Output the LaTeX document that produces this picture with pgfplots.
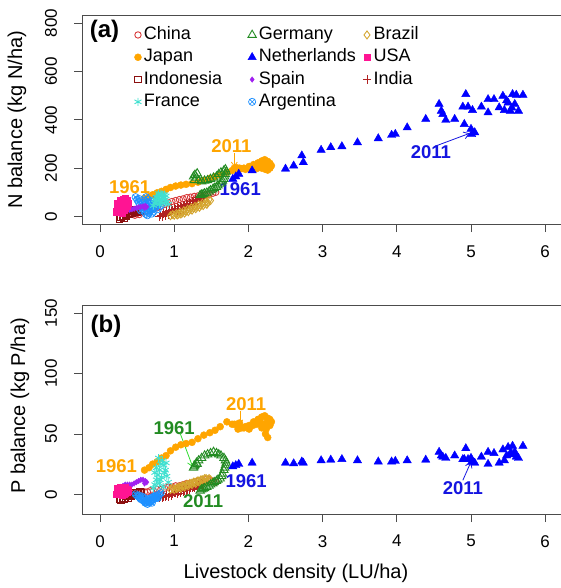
\documentclass[border=0pt]{standalone}
\usepackage{pgfplots}
\usepackage{pgfplotstable}
\pgfplotsset{compat=1.18}
\usepackage{fontspec}
\setmainfont{Liberation Sans}
\usetikzlibrary{arrows.meta}
\definecolor{cChina}{HTML}{D83A3A}
\definecolor{cGermany}{HTML}{228B22}
\definecolor{cBrazil}{HTML}{D4A52E}
\definecolor{cJapan}{HTML}{FFA500}
\definecolor{cNL}{HTML}{0000FF}
\definecolor{cUSA}{HTML}{FF1493}
\definecolor{cIndo}{HTML}{8B1010}
\definecolor{cSpain}{HTML}{A020F0}
\definecolor{cIndia}{HTML}{B22222}
\definecolor{cFrance}{HTML}{40E0D0}
\definecolor{cArg}{HTML}{1E90FF}
\definecolor{cBlueLab}{HTML}{1414E0}
\definecolor{cGreenArr}{HTML}{33DD33}

\pgfplotstableread{
x N P
1.79 155 23
1.87 176 25
1.83 165 24
2.05 190 26
2.50 197 26
2.61 210 25.5
2.72 252 27
2.74 224 26
2.98 275 28
3.11 286 28.5
3.26 290 29
3.47 306 28
3.75 323 27
3.93 337 27
3.98 341 27.5
4.14 368 28
4.39 403 28.5
4.57 465 35
4.60 437 32
4.62 423 31
4.66 399 30
4.78 403 32
4.91 382 29
4.93 506 38
4.89 454 29
4.96 454 29
5.02 440 27
5.00 362 30
5.01 340 27
5.05 348 26
5.14 454 31
5.23 485 35
5.23 430 25
5.31 485 34
5.38 451 26
5.43 499 37
5.45 440 28
5.50 471 39
5.53 437 34
5.56 506 40
5.59 465 35
5.61 503 31
5.64 437 30
5.70 503 40
5.48 480 32
5.55 450 33
}\tNL

\pgfplotstableread{
x N P
0.60 75 20
0.66 82 22
0.71 90 25
0.77 98 27
0.83 104 30
0.89 112 32
0.95 120 36
1.02 126 39
1.09 130 41
1.16 133 42
1.24 136 43
1.32 142 46
1.40 150 49
1.48 158 51
1.55 165 53
1.62 172 56
1.71 183 60
1.78 190 58
1.86 195 54
1.94 200 55
2.01 207 57
2.07 215 60
2.13 222 62
2.18 230 64
2.22 235 65
2.26 228 63
2.29 220 62
2.31 210 60
2.29 200 57
2.26 205 61
2.24 198 54
2.23 195 50
2.26 192 47
2.21 210 58
2.18 200 55
2.16 215 60
2.14 205 62
2.11 198 58
2.06 205 57
2.01 200 54
1.96 195 56
1.91 198 55
1.88 200 59
1.84 202 58
1.81 200 58
}\tJP

\pgfplotstableread{
x N P
1.26 165 22
1.28 172 24
1.30 160 26
1.27 150 23
1.31 178 25
1.33 150 28
1.37 145 30
1.41 148 32
1.45 150 33
1.49 155 34
1.53 160 35
1.57 165 34
1.60 175 33
1.63 182 32
1.67 190 30
1.69 195 28
1.70 185 26
1.69 175 24
1.68 165 22
1.67 155 20
1.65 148 17
1.64 140 15
1.62 135 13
1.59 128 12
1.57 122 11
1.54 118 10
1.52 112 9
1.49 108 8
1.47 103 7
1.44 98 6
1.41 95 5
1.39 92 4.5
1.37 90 4
1.35 88 3
}\tDE

\pgfplotstableread{
x N P
0.45 10 1
0.47 5 0
0.49 12 1
0.51 15 1
0.53 8 1
0.56 18 2
0.60 20 2
0.64 25 2
0.68 28 3
0.72 32 3
0.77 36 4
0.82 42 4
0.87 50 5
0.92 56 6
0.97 62 6
1.02 66 7
1.07 70 7
1.12 73 8
1.17 78 9
1.22 80 9
1.27 83 10
1.32 85 11
1.37 88 12
1.42 90 12
1.47 92 12
1.52 96 11
1.56 100 10
}\tCN

\pgfplotstableread{
x N P
0.80 -2 -3
0.82 5 -2
0.84 0 -3
0.86 10 -1
0.88 4 -2
0.90 15 -1
0.92 8 -2
0.94 20 0
0.96 12 -1
0.98 25 0
1.00 18 1
1.02 30 1
1.04 22 0
1.06 35 2
1.08 28 1
1.10 40 3
1.12 33 2
1.14 45 3
1.16 38 3
1.18 50 4
1.20 44 4
1.22 55 5
1.24 48 5
1.26 60 6
1.28 54 5
1.30 66 7
1.32 60 6
1.34 72 7
1.36 68 8
1.38 78 8
1.40 74 9
1.37 85 9
1.33 78 8
1.29 70 7
1.25 65 6
1.21 60 5
1.17 54 4
1.13 48 4
1.09 44 3
1.05 40 2
1.01 34 1
0.97 30 1
0.93 25 0
0.89 20 -1
0.85 14 -2
}\tIN

\pgfplotstableread{
x N P
0.95 3 4
0.98 8 5
1.00 5 4
1.03 12 5
1.06 10 6
1.08 18 6
1.11 15 7
1.13 24 7
1.16 22 8
1.18 30 8
1.21 28 9
1.23 36 9
1.26 34 10
1.28 42 10
1.31 40 11
1.33 48 11
1.36 46 12
1.38 55 12
1.41 52 13
1.43 62 13
1.45 58 12
1.47 70 13
1.49 66 12
1.44 50 11
1.39 45 10
1.34 38 10
1.29 32 9
1.24 26 8
1.19 20 7
1.14 14 6
1.09 10 5
1.04 6 5
}\tBR

\pgfplotstableread{
x N P
0.26 -10 -4
0.28 -5 -5
0.30 0 -3
0.32 -8 -4
0.34 5 -3
0.36 2 -2
0.38 10 -3
0.40 8 -1
0.42 15 -2
0.44 12 0
0.46 20 -1
0.48 25 0
0.50 18 1
0.52 28 1
0.54 22 2
0.56 30 1
0.44 30 1
0.40 25 0
0.36 20 -1
}\tID

\pgfplotstableread{
x N P
0.22 20 0
0.24 30 1
0.26 40 2
0.28 50 3
0.30 60 4
0.32 70 5
0.34 75 5
0.36 65 4
0.38 55 3
0.36 45 2
0.34 35 1
0.32 25 0
0.30 15 -1
0.28 30 2
0.26 45 4
0.30 40 3
0.34 55 6
0.24 55 5
0.28 68 6
0.32 48 3
}\tUS

\pgfplotstableread{
x N P
0.22 15 4
0.25 18 5
0.28 20 6
0.31 22 7
0.34 24 8
0.37 26 8
0.40 28 8
0.43 30 8
0.46 32 9
0.49 35 10
0.52 38 11
0.55 40 12
0.58 42 12
0.61 44 11
0.63 40 10
0.60 36 9
}\tES

\pgfplotstableread{
x N P
0.48 80 0
0.50 70 -1
0.52 60 -2
0.54 50 -3
0.56 40 -4
0.58 30 -5
0.60 20 -6
0.62 10 -7
0.64 5 -8
0.66 15 -7
0.68 25 -6
0.70 35 -5
0.72 45 -4
0.74 55 -3
0.76 65 -2
0.78 75 -1
0.80 60 0
0.82 45 1
0.57 55 -2
0.60 65 -3
0.63 40 -5
0.66 50 -4
0.69 30 -3
0.72 20 -2
0.75 40 -1
0.55 25 -4
0.65 70 -5
0.62 80 -6
0.70 60 -7
0.78 30 -3
0.59 45 -4
0.67 35 -6
0.73 68 -2
0.64 58 -5
0.70 12 -4
0.76 50 -3
0.53 72 -1
0.61 33 -7
}\tAR

\pgfplotstableread{
x N P
0.72 45 5
0.74 55 8
0.76 65 12
0.78 75 16
0.80 85 20
0.82 95 25
0.84 90 28
0.86 80 24
0.88 70 20
0.90 60 15
0.92 50 10
0.85 55 6
0.80 50 9
0.76 80 22
0.79 95 30
0.83 70 14
0.87 90 18
0.74 70 18
0.81 60 12
0.89 85 26
}\tFR

\pgfplotsset{
  mkChina/.style={only marks, mark=o, mark size=3.2pt, color=cChina, mark options={line width=0.9pt}},
  mkGermany/.style={only marks, mark=triangle, mark size=4.8pt, color=cGermany, mark options={line width=0.9pt}},
  mkBrazil/.style={only marks, mark=diamond, mark size=4pt, color=cBrazil, mark options={line width=0.9pt}},
  mkJapan/.style={only marks, mark=*, mark size=3.5pt, color=cJapan},
  mkNL/.style={only marks, mark=triangle*, mark size=4.8pt, color=cNL},
  mkUSA/.style={only marks, mark=square*, mark size=3.2pt, color=cUSA},
  mkIndo/.style={only marks, mark=square, mark size=3.2pt, color=cIndo, mark options={line width=0.9pt}},
  mkSpain/.style={only marks, mark=diamond*, mark size=2.8pt, color=cSpain},
  mkIndia/.style={only marks, mark=+, mark size=4.2pt, color=cIndia, mark options={line width=1pt, draw=cIndia}},
  mkFrance/.style={only marks, mark=asterisk, mark size=4pt, color=cFrance, mark options={line width=0.9pt}},
  mkArg/.style={only marks, mark=otimes, mark size=3.6pt, color=cArg, mark options={line width=0.7pt}},
  panel/.style={
    scale only axis, width=480.8pt, height=208.7pt,
    xmin=-0.24, xmax=6.24,
    xtick={0,1,2,3,4,5,6},
    tick align=outside, major tick length=8pt,
    axis line style={black!70, line width=0.8pt},
    tick style={black!70, line width=0.8pt},
    xtick pos=bottom, ytick pos=left,
    /pgf/number format/assume math mode=true,
    ticklabel style={font=\fontsize{17}{17}\selectfont, inner sep=0pt},
    xticklabel style={anchor=north},
    yticklabel={\makebox[29pt][l]{\rotatebox{90}{\pgfmathprintnumber{\tick}}}},
    yticklabel style={anchor=east},
    xticklabel shift=13pt,
    clip=false,
  },
}
\tikzset{yrlab/.style={font=\fontsize{18.5}{18.5}\selectfont\bfseries, inner sep=0pt}}

\begin{document}
\begin{tikzpicture}
\path[use as bounding box, clip] (0pt,0pt) rectangle (561pt,588pt);

% ---------------- panel (a)
\begin{axis}[panel, at={(82.2pt,363.8pt)}, anchor=south west,
  ymin=-32, ymax=832, ytick={0,200,400,600,800},
  legend columns=3,
  legend cell align=left,
  legend image code/.code={\draw[#1] plot coordinates {(0pt,0pt)};},
  legend style={draw=none, fill=none, at={(axis cs:0.462,786)}, anchor=north west,
    font=\fontsize{18}{18}\selectfont, inner sep=0pt, row sep=6pt,
    nodes={inner sep=0pt, text height=12.6pt, text depth=3.7pt},
    /tikz/every odd column/.style={column sep=2.5pt},
    /tikz/every even column/.style={column sep=0pt}},
]
\addlegendimage{mkChina}\addlegendentry{\makebox[104pt][l]{China}}
\addlegendimage{mkGermany}\addlegendentry{\makebox[104pt][l]{Germany}}
\addlegendimage{mkBrazil}\addlegendentry{\makebox[104pt][l]{Brazil}}
\addlegendimage{mkJapan}\addlegendentry{\makebox[104pt][l]{Japan}}
\addlegendimage{mkNL}\addlegendentry{\makebox[104pt][l]{Netherlands}}
\addlegendimage{mkUSA}\addlegendentry{\makebox[104pt][l]{USA}}
\addlegendimage{mkIndo}\addlegendentry{\makebox[104pt][l]{Indonesia}}
\addlegendimage{mkSpain}\addlegendentry{\makebox[104pt][l]{Spain}}
\addlegendimage{mkIndia}\addlegendentry{\makebox[104pt][l]{India}}
\addlegendimage{mkFrance}\addlegendentry{\makebox[104pt][l]{France}}
\addlegendimage{mkArg}\addlegendentry{\makebox[104pt][l]{Argentina}}

\addplot[mkJapan, forget plot] table[x=x,y=N]{\tJP};
\addplot[mkChina, forget plot] table[x=x,y=N]{\tCN};
\addplot[mkIndo, forget plot] table[x=x,y=N]{\tID};
\addplot[mkIndia, forget plot] table[x=x,y=N]{\tIN};
\addplot[mkBrazil, forget plot] table[x=x,y=N]{\tBR};
\addplot[mkArg, forget plot] table[x=x,y=N]{\tAR};
\addplot[mkFrance, forget plot] table[x=x,y=N]{\tFR};
\addplot[mkSpain, forget plot] table[x=x,y=N]{\tES};
\addplot[mkUSA, forget plot] table[x=x,y=N]{\tUS};
\addplot[mkGermany, forget plot] table[x=x,y=N]{\tDE};
\addplot[mkNL, forget plot] table[x=x,y=N]{\tNL};

\node[yrlab, text=cJapan] at (axis cs:0.40,120) {1961};
\node[yrlab, text=cJapan] at (axis cs:1.77,292) {2011};
\draw[cJapan, line width=0.8pt, -{Straight Barb[length=4pt,width=6pt]}] (axis cs:1.81,262) -- (axis cs:1.81,206);
\node[yrlab, text=cBlueLab] at (axis cs:1.89,114) {1961};
\node[yrlab, text=cBlueLab] at (axis cs:4.46,265) {2011};
\draw[cBlueLab, line width=0.8pt, -{Straight Barb[length=5pt,width=7pt]}] (axis cs:4.50,289) -- (axis cs:4.98,344);
\end{axis}

\node[font=\fontsize{24}{24}\selectfont\bfseries, inner sep=0pt] at (104.5pt,556.3pt) {(a)};
\node[font=\fontsize{20}{20}\selectfont, rotate=90, inner sep=0pt] at (17pt,468.1pt) {N balance (kg N/ha)};

% ---------------- panel (b)
\begin{axis}[panel, at={(82.2pt,73.9pt)}, anchor=south west,
  ymin=-16.4, ymax=156.4, ytick={0,50,100,150},
]
\addplot[mkJapan] table[x=x,y=P]{\tJP};
\addplot[mkChina] table[x=x,y=P]{\tCN};
\addplot[mkIndo] table[x=x,y=P]{\tID};
\addplot[mkIndia] table[x=x,y=P]{\tIN};
\addplot[mkBrazil] table[x=x,y=P]{\tBR};
\addplot[mkArg] table[x=x,y=P]{\tAR};
\addplot[mkFrance] table[x=x,y=P]{\tFR};
\addplot[mkSpain] table[x=x,y=P]{\tES};
\addplot[mkUSA] table[x=x,y=P]{\tUS};
\addplot[mkGermany] table[x=x,y=P]{\tDE};
\addplot[mkNL] table[x=x,y=P]{\tNL};

\node[yrlab, text=cJapan] at (axis cs:1.97,74.8) {2011};
\draw[cJapan, line width=0.8pt, -{Straight Barb[length=3pt,width=5pt]}] (axis cs:1.89,69) -- (axis cs:1.89,58.6);
\node[yrlab, text=cJapan] at (axis cs:0.22,23.4) {1961};
\node[yrlab, text=cGermany] at (axis cs:1.00,55) {1961};
\draw[cGreenArr, line width=0.8pt, -{Straight Barb[length=5pt,width=7pt]}] (axis cs:1.08,50.5) -- (axis cs:1.25,22.6);
\node[yrlab, text=cBlueLab] at (axis cs:1.97,11.2) {1961};
\node[yrlab, text=cGermany] at (axis cs:1.39,-6) {2011};
\node[yrlab, text=cBlueLab] at (axis cs:4.89,5.4) {2011};
\draw[cBlueLab, line width=0.8pt, -{Straight Barb[length=5pt,width=7pt]}] (axis cs:4.89,11.6) -- (axis cs:5.00,26.9);
\end{axis}

\node[font=\fontsize{24}{24}\selectfont\bfseries, inner sep=0pt] at (106pt,261.3pt) {(b)};
\node[font=\fontsize{20}{20}\selectfont, rotate=90, inner sep=0pt] at (20pt,182pt) {P balance (kg P/ha)};
\node[font=\fontsize{20}{20}\selectfont, inner sep=0pt, anchor=base] at (296pt,9.5pt) {Livestock density (LU/ha)};
\end{tikzpicture}
\end{document}
